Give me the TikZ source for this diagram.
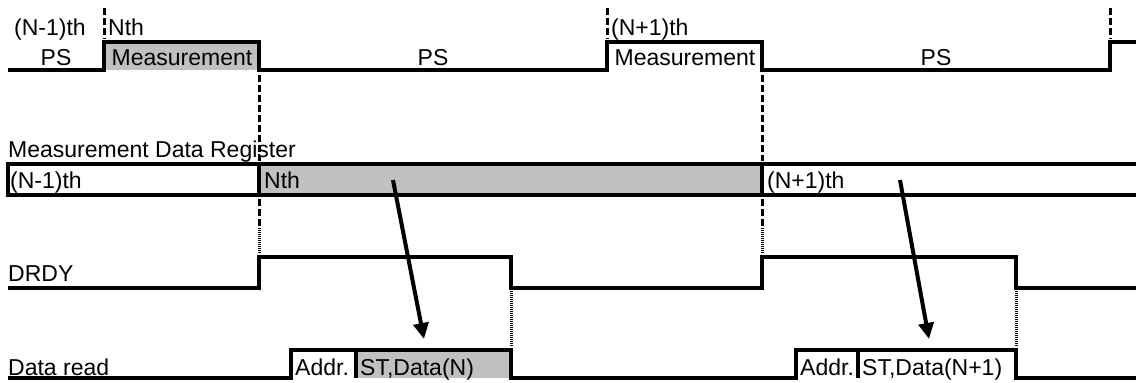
\documentclass[tikz,border=0pt]{standalone}
\usepackage{fontspec}
\setmainfont{Liberation Sans}
\usetikzlibrary{arrows.meta}
\definecolor{boxgray}{RGB}{192,192,192}
\tikzset{
  sig/.style={line width=4.5pt, line join=miter},
  dashline/.style={line width=3pt, dash pattern=on 7pt off 3pt},
  dotline/.style={line width=3pt, dash pattern=on 1pt off 1pt},
  lbl/.style={inner sep=0pt, anchor=base west, font=\fontsize{23}{27}\selectfont},
  clbl/.style={inner sep=0pt, anchor=base, font=\fontsize{23}{27}\selectfont},
  readarrow/.style={line width=4pt, -{Triangle[length=16pt,width=15pt]}},
}
\begin{document}
\begin{tikzpicture}[x=1pt,y=-1pt]
\useasboundingbox (0,0) rectangle (1136,383);
% fills
\fill[boxgray] (104,42) rectangle (259,70);
\fill[boxgray] (259,164) rectangle (762,195);
\fill[boxgray] (356,350) rectangle (511,378);
% top signal
\draw[sig] (8,70) -- (104,70) -- (104,42) -- (259,42) -- (259,70) -- (607,70) -- (607,42) -- (762,42) -- (762,70) -- (1110,70) -- (1110,42) -- (1136,42);
% dashed markers above
\draw[dashline] (104,8) -- (104,39);
\draw[dashline] (607,8) -- (607,39);
\draw[dashline] (1110,8) -- (1110,39);
% dashed from top signal down
\draw[dashline] (259,75) -- (259,161);
\draw[dashline] (762,75) -- (762,161);
\draw[dashline] (259,199) -- (259,228);
\draw[dashline] (762,199) -- (762,228);
\draw[dotline] (259,228) -- (259,254);
\draw[dotline] (762,228) -- (762,254);
% register
\draw[sig] (1136,164) -- (8,164) -- (8,195) -- (1136,195);
\draw[sig] (259,164) -- (259,195);
\draw[sig] (762,164) -- (762,195);
% DRDY
\draw[sig] (8,288) -- (259,288) -- (259,257) -- (511,257) -- (511,288) -- (762,288) -- (762,257) -- (1016,257) -- (1016,288) -- (1136,288);
\draw[dotline] (511,291) -- (511,347);
\draw[dotline] (1016,291) -- (1016,347);
% Data read
\draw[sig] (8,378) -- (291,378) -- (291,350) -- (511,350) -- (511,378) -- (796,378) -- (796,350) -- (1016,350) -- (1016,378) -- (1136,378);
\draw[sig] (356,350) -- (356,378);
\draw[sig] (858,350) -- (858,378);
% labels
\node[lbl] (tNm1) at (14,35) {(N-1)th};
\node[lbl] (tN) at (108,35) {Nth};
\node[lbl] (tNp1) at (611,35) {(N+1)th};
\node[clbl] (ps1) at (56,65) {PS};
\node[clbl] (meas1) at (182,65) {Measurement};
\node[clbl] (ps2) at (433,65) {PS};
\node[clbl] (meas2) at (685,65) {Measurement};
\node[clbl] (ps3) at (936,65) {PS};
\node[lbl] (regname) at (8,157) {Measurement Data Register};
\node[lbl] (rNm1) at (10,188) {(N-1)th};
\node[lbl] (rN) at (264,188) {Nth};
\node[lbl] (rNp1) at (767,188) {(N+1)th};
\node[lbl] (drdy) at (8,281) {DRDY};
\node[lbl] (dread) at (8,375) {Data read};
\node[lbl] (addr1) at (295,375) {Addr.};
\node[lbl] (data1) at (360,375) {ST,Data(N)};
\node[lbl] (addr2) at (800,375) {Addr.};
\node[lbl] (data2) at (862,375) {ST,Data(N+1)};
% arrows
\coordinate (a1s) at (393,180);
\coordinate (a1e) at (424,339);
\coordinate (a2s) at (900,180);
\coordinate (a2e) at (929,339);
\draw[readarrow] (a1s) -- (a1e);
\draw[readarrow] (a2s) -- (a2e);
\end{tikzpicture}
\end{document}
